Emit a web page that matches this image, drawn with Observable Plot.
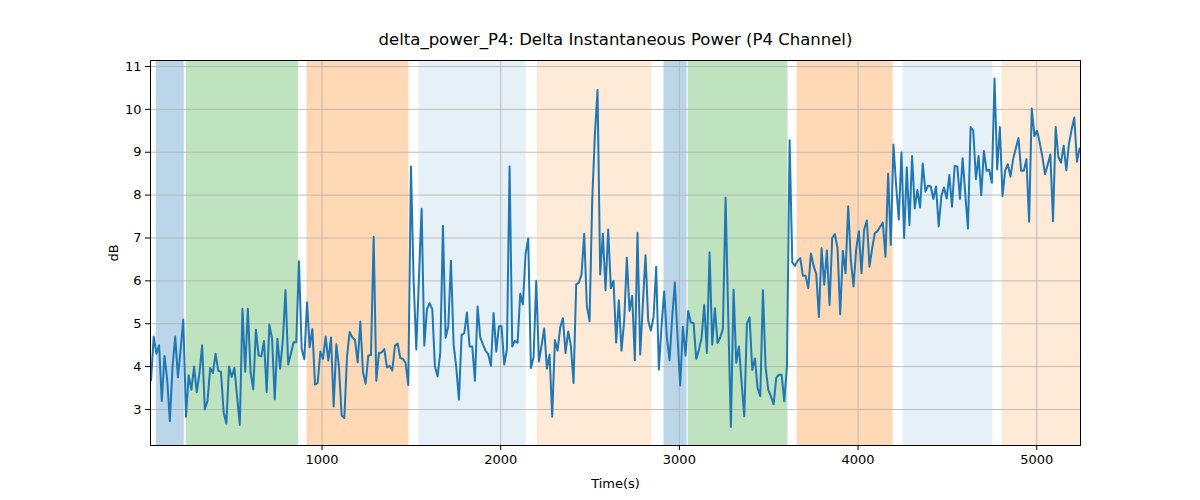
<!DOCTYPE html>
<html><head><meta charset="utf-8">
<script src="https://cdn.jsdelivr.net/npm/d3@7"></script>
<script src="https://cdn.jsdelivr.net/npm/@observablehq/plot@0.6"></script>
<style>body{margin:0;background:#fff;font-family:"DejaVu Sans",sans-serif}</style>
</head><body><div id="chart"></div>
<script>
const title = "delta_power_P4: Delta Instantaneous Power (P4 Channel)";
const segStart = [43, 916, 1811, 2706, 3617, 4377, 5240];
const seg1 = [3.68,4.7,4.3,4.5,3.2,4.25,3.7,2.73,4.0,4.7,3.75,4.4,5.1,2.83,3.8,3.46,4.0,3.4,3.84,4.5,3.0,3.2,3.97,3.85,4.3,3.9,3.88,2.93,2.67,4.0,3.76,3.97,3.3,2.64,5.35,3.88,5.35,3.88,3.47,4.86,4.26,4.24,4.6,3.41,4.98,4.65,3.24,4.65,3.95,4.61,5.78,4.05,4.3,4.57,4.57,6.46,4.42,4.17];
const seg2 = [5.5,4.45,4.88,3.58,3.62,4.35,4.18,4.7,4.14,4.68,3.07,4.52,3.98,2.86,2.8,4.22,4.81,4.68,4.62,4.1,5.05,3.87,3.6,4.26,4.27,7.03,3.67,4.32,4.33,4.41,3.98,4.02,3.91,4.49,4.54,4.2,4.18,4.08,3.57,8.67,6.0,4.4,6.08,7.68,4.49,5.34,5.48,5.34,4.0,3.77,4.33,7.28,4.67,4.93,6.47,4.52,3.98,3.23,4.74,4.78];
const seg3 = [5.26,4.47,4.47,3.67,5.4,4.68,4.52,4.37,4.29,4.02,5.25,4.35,4.94,4.94,4.05,4.4,8.67,4.47,4.6,4.56,5.7,5.45,6.62,6.99,3.97,4.22,6.0,4.12,4.49,4.89,3.95,4.28,2.83,4.62,4.37,4.91,5.13,4.32,4.82,4.49,3.62,5.92,5.96,6.15,7.1,5.41,5.06,7.86,9.4,10.45,6.15,7.1,5.78,7.2,5.83,6.0,4.56,5.55,4.37,5.06];
const seg4 = [6.54,5.3,5.65,4.15,7.12,4.28,5.46,6.6,5.07,4.84,5.15,6.33,3.93,4.95,5.75,4.68,4.15,5.15,5.96,4.68,3.56,4.93,4.26,5.3,5.03,5.02,4.18,4.39,4.67,5.44,4.32,6.66,4.51,5.36,4.55,4.68,4.88,7.94,5.15,2.59,5.79,4.09,4.47,3.64,2.84,5.0,5.15,3.92,4.19,3.5,3.31,5.78,3.98,3.46,3.31,3.12,3.74,3.81,3.81,3.19,4.02];
const seg5 = [9.28,6.43,6.35,6.47,6.53,6.12,6.12,5.83,6.64,6.35,6.16,5.16,6.76,5.91,6.71,5.44,7.0,7.09,6.76,5.22,6.7,6.18,7.74,6.47,5.87,6.74,7.16,6.18,7.2,7.41,6.33,6.76,7.11,7.16,7.26,7.36,6.56,8.5,6.84,9.18,8.23,7.43,9.0,7.0,8.65,7.3,8.91,7.69,8.12,7.71,8.74];
const seg6 = [8.08,8.22,8.2,7.91,8.2,7.27,7.98,8.18,7.92,8.47,7.73,8.68,8.67,7.91,8.86,8.02,7.22,9.59,9.5,8.37,8.91,8.0,9.03,8.57,8.59,8.29,10.72,8.6,9.59,7.98,8.57,8.72,8.43,8.84,9.09,9.33,8.57,8.57,8.84,7.38,10.02,9.38,9.5,9.22,8.89,8.49,8.71,8.95,7.39,9.59,8.89,8.76,9.15,8.58,9.2,9.53,9.81,8.78,9.09];
const segments = [seg1, seg2, seg3, seg4, seg5, seg6];
const bandStart = [72,240,916,1543,2204,2914,3049,3659,4252,4806];
const bandEnd   = [229,868,1487,2142,2847,3043,3608,4196,4755,5260];
const bandColor = ["#1f77b4","#2ca02c","#ff7f0e","#1f77b4","#ff7f0e","#1f77b4","#2ca02c","#ff7f0e","#1f77b4","#ff7f0e"];
const bandAlpha = [0.3,0.3,0.3,0.11,0.16,0.3,0.3,0.3,0.11,0.16];
const xTicks = [1000,2000,3000,4000,5000];
const yTicks = [3,4,5,6,7,8,9,10,11];

const series = [];
segments.forEach((seg, k) => {
  const a = segStart[k], b = segStart[k+1];
  const last = k === segments.length - 1;
  const n = last ? seg.length - 1 : seg.length;
  seg.forEach((v, i) => series.push({t: a + (b - a) * i / n, v}));
});
const bands = bandStart.map((s,i)=>({s, e:bandEnd[i], c:bandColor[i], a:bandAlpha[i]}));

const plot = Plot.plot({
  width:1200, height:500,
  marginLeft:150, marginRight:120, marginTop:60, marginBottom:55,
  style:{fontFamily:"DejaVu Sans, sans-serif", fontSize:"13px", color:"#000"},
  x:{domain:[40,5245]},
  y:{domain:[2.16,11.14]},
  marks:[
    Plot.rectX(bands,{x1:"s",x2:"e",y1:2.16,y2:11.14,fill:"c",fillOpacity:"a",clip:true}),
    Plot.gridX(xTicks,{stroke:"#b0b0b0",strokeOpacity:1,strokeWidth:0.8}),
    Plot.gridY(yTicks,{stroke:"#b0b0b0",strokeOpacity:1,strokeWidth:0.8}),
    Plot.line(series,{x:"t",y:"v",stroke:"#1f77b4",strokeWidth:2,clip:true}),
    Plot.frame({stroke:"#000"}),
    Plot.axisX({ticks:xTicks,tickFormat:d=>String(d),tickSize:5,label:"Time(s)",labelAnchor:"center",labelArrow:"none",labelOffset:42,fontSize:13}),
    Plot.axisY({ticks:yTicks,tickSize:5,label:"dB",labelAnchor:"center",labelArrow:"none",labelOffset:42,fontSize:13}),
    Plot.text([title],{frameAnchor:"top",dy:-16,fontSize:16.5,fill:"#000",lineAnchor:"bottom"})
  ]
});
document.getElementById("chart").appendChild(plot);
</script></body></html>
